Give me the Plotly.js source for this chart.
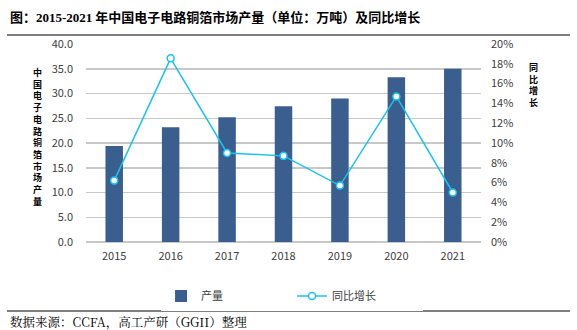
<!DOCTYPE html>
<html><head><meta charset="utf-8">
<script src="https://cdn.plot.ly/plotly-3.0.1.min.js"></script>
<style>body{margin:0;background:#fff}#chart{width:577px;height:330px}</style>
</head><body><div id="chart"></div>
<script>
const years = ['2015','2016','2017','2018','2019','2020','2021'];
const output = [19.4, 23.2, 25.2, 27.4, 29.0, 33.3, 35.0];
const growth = [0.062, 0.1855, 0.090, 0.087, 0.057, 0.147, 0.050];
const leftTicks = [0,5,10,15,20,25,30,35,40];
const rightTicks = [0,0.02,0.04,0.06,0.08,0.10,0.12,0.14,0.16,0.18,0.20];
const leftTitle = '中国电子电路铜箔市场产量';
const rightTitle = '同比增长';

const sans = 'Noto Sans CJK SC, Noto Sans, sans-serif';
const traces = [
  {type:'bar', x:years, y:output, name:'产量', marker:{color:'#3a5f8f'}, yaxis:'y'},
  {type:'scatter', mode:'lines+markers', x:years, y:growth, name:'同比增长', yaxis:'y2',
   line:{color:'#19c3f0', width:1.5},
   marker:{color:'#ffffff', size:7, line:{color:'#19c3f0', width:1.5}}}
];
const px2y = p => (242 - p) / 198;
const px2x = p => (p - 86) / 395;
const anns = [
  {xref:'paper', yref:'paper', x:px2x(8), y:px2y(17), xanchor:'left', yanchor:'middle', showarrow:false,
   text:'<b>图：<span style="font-family:Liberation Serif">2015-2021</span> 年中国电子电路铜箔市场产量（单位：万吨）及同比增长</b>',
   font:{family:sans, size:13, color:'#000'}},
  {xref:'paper', yref:'paper', x:px2x(8), y:px2y(322), xanchor:'left', yanchor:'middle', showarrow:false,
   text:'数据来源：CCFA，高工产研（GGII）整理',
   font:{family:'Noto Serif CJK SC, Liberation Serif, serif', size:12.5, color:'#000'}},
  {xref:'paper', yref:'paper', x:px2x(37), y:px2y(137), xanchor:'center', yanchor:'middle', showarrow:false, borderpad:0,
   text:'<b>'+leftTitle.split('').join('<br>')+'</b>', font:{family:sans, size:9, color:'#000'}},
  {xref:'paper', yref:'paper', x:px2x(533), y:px2y(85), xanchor:'center', yanchor:'middle', showarrow:false, borderpad:0,
   text:'<b>'+rightTitle.split('').join('<br>')+'</b>', font:{family:sans, size:9, color:'#000'}}
];

const layout = {
  width:577, height:330,
  margin:{l:86, r:96, t:44, b:88},
  paper_bgcolor:'#fff', plot_bgcolor:'#fff',
  font:{family:sans, size:11, color:'#404040'},
  bargap:0.69,
  showlegend:true,
  legend:{orientation:'h', x:0.19, y:-0.2, yanchor:'top', xanchor:'left',
    entrywidth:86, entrywidthmode:'pixels', font:{size:11, color:'#404040'}, traceorder:'normal'},
  xaxis:{type:'category', showline:false, ticks:'', ticklabelstandoff:6, tickfont:{size:11, color:'#404040'}, zeroline:false},
  yaxis:{range:[0,40], tickvals:leftTicks, tickformat:'.1f', showgrid:true, gridcolor:'#c8c8c8', gridwidth:1.5,
    zeroline:true, zerolinecolor:'#c8c8c8', zerolinewidth:1.5, ticks:'', ticklabelstandoff:12, tickfont:{size:11, color:'#404040'}},
  yaxis2:{range:[0,0.20], tickvals:rightTicks, tickformat:'.0%', overlaying:'y', side:'right', showgrid:false,
    zeroline:false, ticks:'', ticklabelstandoff:9, tickfont:{size:11, color:'#404040'}},
  shapes:[
    {type:'line', xref:'paper', yref:'paper', x0:px2x(7), x1:px2x(570), y0:px2y(35), y1:px2y(35), line:{color:'#000', width:1.2}},
    {type:'line', xref:'paper', yref:'paper', x0:px2x(7), x1:px2x(570), y0:px2y(311), y1:px2y(311), line:{color:'#000', width:1.2}}
  ],
  annotations:anns
};
Plotly.newPlot('chart', traces, layout, {displayModeBar:false, staticPlot:true});
</script></body></html>
